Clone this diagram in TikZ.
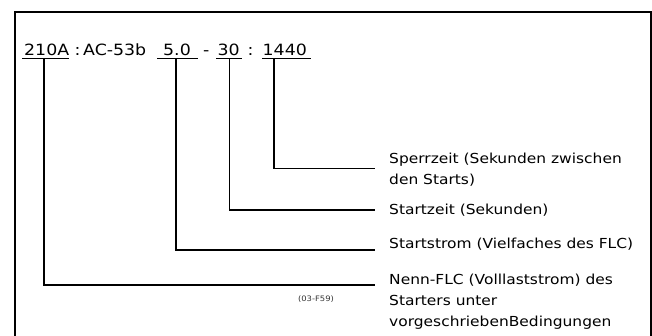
\documentclass[tikz,border=0pt]{standalone}
\usepackage{fontspec}
\setmainfont{DejaVu Sans}[FakeStretch=1.12]
\begin{document}
\begin{tikzpicture}[x=1pt,y=-1pt,
  hdr/.style={font=\fontsize{15.5}{18}\selectfont, inner sep=0pt, anchor=base west},
  lbl/.style={font=\fontsize{13.8}{21}\selectfont, inner sep=0pt, anchor=base west, align=left},
  uline/.style={line width=1.1pt},
  conn/.style={line width=1.1pt},
  frame/.style={line width=2pt}]
\useasboundingbox (0,0) rectangle (652,336);
\draw[frame] (15,340) -- (15,12) -- (651,12) -- (651,340);
% header
\node[hdr] (t210) at (24,55.5) {210A};
\node[hdr] (col1) at (74.5,55.5) {:};
\node[hdr] (tac) at (83,55.5) {AC-53b};
\node[hdr] (t50) at (163,55.5) {5.0};
\node[hdr] (dash) at (203,55.5) {-};
\node[hdr] (t30) at (217.5,55.5) {30};
\node[hdr] (col2) at (247.5,55.5) {:};
\node[hdr] (t1440) at (262.5,55.5) {1440};
% underlines
\draw[uline] (22,58.5) -- (69,58.5);
\draw[uline] (157,58.5) -- (198,58.5);
\draw[uline] (216,58.5) -- (242,58.5);
\draw[uline] (262,58.5) -- (311,58.5);
% connector anchor points
\coordinate (a210) at (44,58.5);
\coordinate (a50) at (176,58.5);
\coordinate (a30) at (229.5,58.5);
\coordinate (a1440) at (274,58.5);
\coordinate (e210) at (375,285);
\coordinate (e50) at (375,250);
\coordinate (e30) at (375,210);
\coordinate (e1440) at (375,168.5);
\draw[conn] (a1440) |- (e1440);
\draw[conn] (a30) |- (e30);
\draw[conn] (a50) |- (e50);
\draw[conn] (a210) |- (e210);
% labels (base anchor = baseline of last line)
\node[lbl] (l1440) at (389,185) {Sperrzeit (Sekunden zwischen\\den Starts)};
\node[lbl] (l30) at (389,214.5) {Startzeit (Sekunden)};
\node[lbl] (l50) at (389,248) {Startstrom (Vielfaches des FLC)};
\node[lbl] (l210) at (389,326) {Nenn-FLC (Volllaststrom) des\\Starters unter\\vorgeschriebenBedingungen};
\node[font=\fontsize{7.5}{8}\selectfont, inner sep=0pt, text=black!80] (code) at (316,299) {(03-F59)};
\end{tikzpicture}
\end{document}
